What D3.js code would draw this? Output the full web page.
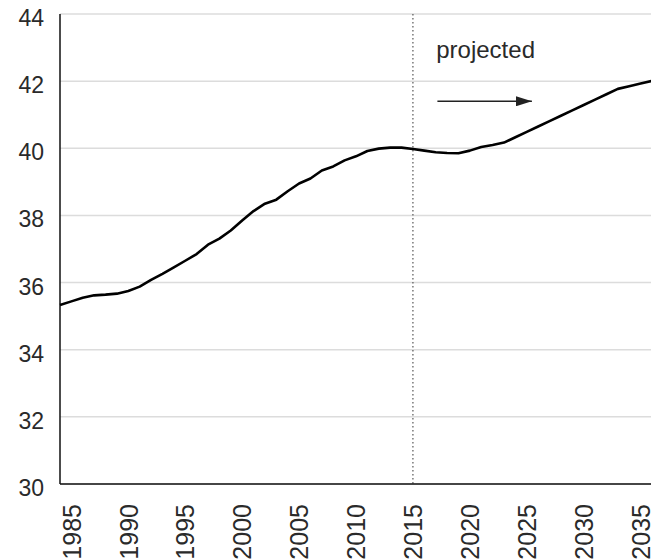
<!DOCTYPE html>
<html>
<head>
<meta charset="utf-8">
<script src="https://cdn.jsdelivr.net/npm/d3@7"></script>
<style>
  body { margin: 0; background: #fff; }
  svg text { font-family: "Liberation Sans", Arial, sans-serif; fill: #2a2a2a; }
</style>
</head>
<body>
<div id="chart"></div>
<script>
// values
const years = [1984, 1985, 1986, 1987, 1988, 1989, 1990, 1991, 1992, 1993,
               1994, 1995, 1996, 1997, 1998, 1999, 2000, 2001, 2002, 2003,
               2004, 2005, 2006, 2007, 2008, 2009, 2010, 2011, 2012, 2013,
               2014, 2015, 2016, 2017, 2018, 2019, 2020, 2021, 2022, 2023,
               2024, 2025, 2026, 2027, 2028, 2029, 2030, 2031, 2032, 2033,
               2034, 2035, 2036]
const values = [35.33, 35.44, 35.55, 35.62, 35.64, 35.67, 35.75, 35.88, 36.08, 36.26,
                36.45, 36.65, 36.85, 37.13, 37.31, 37.55, 37.85, 38.13, 38.35, 38.47,
                38.72, 38.95, 39.10, 39.34, 39.46, 39.64, 39.76, 39.92, 39.99, 40.02,
                40.02, 39.98, 39.93, 39.88, 39.86, 39.85, 39.93, 40.04, 40.10, 40.17,
                40.33, 40.49, 40.65, 40.81, 40.97, 41.13, 41.29, 41.45, 41.61, 41.77,
                41.85, 41.93, 42.01]
const xTicks = [1985, 1990, 1995, 2000, 2005, 2010, 2015, 2020, 2025, 2030, 2035]
const yTicks = [30, 32, 34, 36, 38, 40, 42, 44]
const projectionStart = 2015
const projectedLabel = "projected"

const wSvg = 651
const hSvg = 560
const xLeft = 60, xRight = 652, yTop = 14, yBottom = 484

let svg = d3.select("#chart")
            .append("svg")
            .attr("width", wSvg)
            .attr("height", hSvg)

let xScale = d3.scaleLinear([1984, 2036], [xLeft, xRight])
let yScale = d3.scaleLinear([30, 44], [yBottom, yTop])

// gridlines
svg.append("g")
   .selectAll("line")
   .data(yTicks)
   .enter()
   .append("line")
   .attr("x1", xLeft)
   .attr("x2", wSvg)
   .attr("y1", d => yScale(d))
   .attr("y2", d => yScale(d))
   .attr("stroke", "#dcdcdc")
   .attr("stroke-width", 1.5)

// y axis labels
let yAxis = d3.axisLeft(yScale).tickValues(yTicks).tickSize(0).tickPadding(16)
let gy = svg.append("g")
            .attr("transform", `translate(${xLeft}, 0)`)
            .call(yAxis)
gy.attr("font-family", null)
gy.select(".domain").remove()
gy.selectAll("text")
  .attr("font-size", 23)
  .attr("dy", "0.5em")

// x axis labels, rotated
let xAxis = d3.axisBottom(xScale).tickValues(xTicks).tickSize(0).tickFormat(d3.format("d"))
let gx = svg.append("g")
            .attr("transform", `translate(0, ${yBottom})`)
            .call(xAxis)
gx.attr("font-family", null)
gx.select(".domain").remove()
gx.selectAll("text")
  .attr("font-size", 25)
  .attr("text-anchor", "end")
  .attr("transform", "translate(0, 20) rotate(-90)")
  .attr("x", 0)
  .attr("y", 0)
  .attr("dy", "0.35em")

// dotted marker where the projection starts
svg.append("line")
   .attr("x1", xScale(projectionStart))
   .attr("x2", xScale(projectionStart))
   .attr("y1", yTop)
   .attr("y2", yBottom)
   .attr("stroke", "#555")
   .attr("stroke-width", 1.2)
   .attr("stroke-dasharray", "1.5,2.5")

// axis lines
svg.append("line")
   .attr("x1", xLeft).attr("x2", xLeft)
   .attr("y1", yTop).attr("y2", yBottom)
   .attr("stroke", "#111").attr("stroke-width", 1.5)
svg.append("line")
   .attr("x1", xLeft).attr("x2", wSvg)
   .attr("y1", yBottom).attr("y2", yBottom)
   .attr("stroke", "#111").attr("stroke-width", 1.5)

// the series
const points = years.map((y, i) => ({ year: y, value: values[i] }))
const dMaker = d3.line()
  .x(d => xScale(d.year))
  .y(d => yScale(d.value))

svg.append("path")
   .datum(points)
   .attr("fill", "none")
   .attr("stroke", "#000")
   .attr("stroke-width", 2.6)
   .attr("stroke-linejoin", "round")
   .attr("d", dMaker)

// "projected" note and arrow
svg.append("text")
   .attr("x", xScale(2017.05))
   .attr("y", yScale(42.7))
   .attr("font-size", 24)
   .text(projectedLabel)

svg.append("defs")
   .append("marker")
   .attr("id", "arrowHead")
   .attr("viewBox", "0 0 16 10")
   .attr("refX", 16)
   .attr("refY", 5)
   .attr("markerWidth", 16)
   .attr("markerHeight", 10)
   .attr("markerUnits", "userSpaceOnUse")
   .attr("orient", "auto")
   .append("path")
   .attr("d", "M0,0 L16,5 L0,10 Z")
   .attr("fill", "#222")

svg.append("line")
   .attr("x1", xScale(2017.15))
   .attr("x2", xScale(2025.45))
   .attr("y1", yScale(41.4))
   .attr("y2", yScale(41.4))
   .attr("stroke", "#222")
   .attr("stroke-width", 1.6)
   .attr("marker-end", "url(#arrowHead)")
</script>
</body>
</html>
